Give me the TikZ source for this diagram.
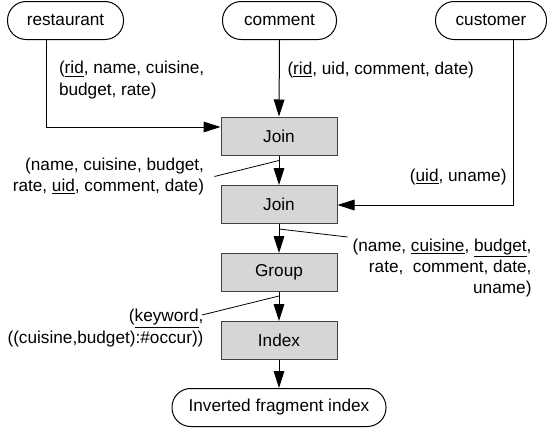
\documentclass[tikz,border=0pt]{standalone}
\usepackage{fontspec}
\setmainfont{Liberation Sans}
\usetikzlibrary{arrows.meta}
\begin{document}
\begin{tikzpicture}[x=0.75pt,y=-0.75pt,line join=round,line width=0.75pt,>={Triangle[length=12.75pt,width=8pt]}]
	\tikzset{every node/.style={font=\fontsize{12.9}{16}\selectfont},
		source/.style={draw,rounded corners=14pt,minimum height=28.5pt,inner sep=0pt},
		op/.style={draw=black!75,fill=black!16,minimum width=87pt,minimum height=28.5pt,inner sep=0pt},
		attr/.style={inner sep=0pt}}
	\useasboundingbox (0,0) rectangle (547,429);
	% relations
	\node[source,minimum width=87pt] (restaurant) at (65.5,20.5) {restaurant};
	\node[source,minimum width=85.5pt] (comment) at (279.5,20.5) {comment};
	\node[source,minimum width=83.25pt] (customer) at (491,20.5) {customer};
	% operators
	\node[op] (join1) at (279,136) {Join};
	\node[op] (join2) at (279,204.5) {Join};
	\node[op] (group) at (279,272.5) {Group};
	\node[op] (index) at (279,340.5) {Index};
	\node[source,minimum width=160.5pt] (inverted) at (279,407.5) {Inverted fragment index};
	% bends
	\coordinate (rbend) at (46,127);
	\coordinate (cbend) at (513,205);
	\draw[->] (restaurant.south -| rbend)--(rbend)--(join1.west |- rbend);
	\draw[->] (comment.south)--(join1.north);
	\draw[->] (customer.south -| cbend)--(cbend)--(join2.east |- cbend);
	\foreach \a/\b in {join1/join2,join2/group,group/index,index/inverted}
	\draw[->] (\a.south)--(\b.north);
	% attribute lists
	\node[attr,anchor=west,align=left] (lblR) at (58.5,80) {(\underline{rid}, name, cuisine,\\budget, rate)};
	\node[attr,anchor=west] (lblC) at (287,70) {(\underline{rid}, uid, comment, date)};
	\node[attr,anchor=east] (lblU) at (507,177) {(\underline{uid}, uname)};
	\node[attr,anchor=east,align=right,inner xsep=7.5pt] (lbl1) at (214.5,176.5) {(name, cuisine, budget,\\rate, \underline{uid}, comment, date)};
	\node[attr,anchor=north east,align=right,inner ysep=1pt] (lbl2) at (532,237) {(name, \underline{cuisine}, \underline{budget},\\rate,~ comment, date,\\uname)};
	\node[attr,anchor=north east,align=right] (lbl3) at (204,309) {(\underline{keyword},\\((cuisine,budget):\#occur))};
	\draw[line width=0.6pt] ([yshift=-3.75pt]join1.south)--(lbl1.east);
	\draw[line width=0.6pt] ([yshift=-3.75pt]join2.south)--([xshift=-3.5pt]lbl2.north west);
	\draw[line width=0.6pt] ([yshift=-3pt]group.south)--([xshift=-1.5pt,yshift=-4.5pt]lbl3.north east);
\end{tikzpicture}
\end{document}
